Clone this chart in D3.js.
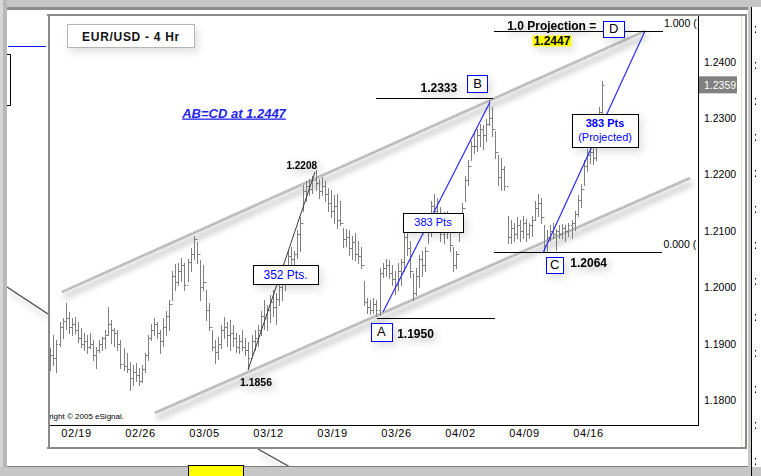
<!DOCTYPE html>
<html><head><meta charset="utf-8">
<script src="https://cdn.jsdelivr.net/npm/d3@7"></script>
<style>body{margin:0;background:#fff;overflow:hidden} text{font-family:"Liberation Sans",Arial,sans-serif}</style>
</head><body><svg id="c" width="761" height="476"></svg>
<script>
// ---------- data ----------
const weekLabels = ["02/19","02/26","03/05","03/12","03/19","03/26","04/02","04/09","04/16"];
const weekTicks = [0,1,2,3,4,5,6,7,8];
const priceTicks = [1.18,1.19,1.20,1.21,1.22,1.23,1.24];
const FIRST_BAR_WEEK = -0.4, BARS_PER_WEEK = 21;
const firstOpen = 1.1860;
const lastPrice = 1.2359;
const highs = [1.1892,1.1915,1.1906,1.1938,1.1945,1.1972,1.1956,1.1945,1.1947,1.1938,
1.1929,1.1919,1.1915,1.1919,1.1906,1.1894,1.1906,1.1912,1.1924,1.1965,
1.1942,1.1929,1.1924,1.1906,1.1892,1.1883,1.1867,1.1862,1.1866,1.1857,
1.1862,1.1883,1.1915,1.1936,1.1945,1.1938,1.1924,1.1945,1.1959,1.1977,
1.2030,1.2042,1.2044,1.2053,1.2044,1.2051,1.2069,1.2092,1.2080,1.2048,
1.2039,1.1995,1.1972,1.1924,1.1906,1.1912,1.1933,1.1947,1.1938,1.1942,
1.1933,1.1920,1.1915,1.1924,1.1910,1.1903,1.1915,1.1924,1.1933,1.1959,
1.1977,1.1968,1.1986,1.1995,1.1991,1.2012,1.2030,1.2039,1.2065,1.2071,
1.2065,1.2101,1.2124,1.2181,1.2189,1.2193,1.2198,1.2208,1.2193,1.2195,
1.2189,1.2177,1.2172,1.2163,1.2166,1.2154,1.2106,1.2104,1.2101,1.2092,
1.2097,1.2083,1.2071,1.2012,1.1982,1.1977,1.1981,1.1977,1.2035,1.2044,
1.2051,1.2048,1.2039,1.2030,1.2044,1.2051,1.2101,1.2113,1.2083,1.2025,
1.2034,1.2057,1.2065,1.2071,1.2127,1.2154,1.2166,1.2159,1.2142,1.2133,
1.2136,1.2119,1.2071,1.2065,1.2127,1.2149,1.2198,1.2225,1.2260,1.2278,
1.2281,1.2290,1.2287,1.2299,1.2333,1.2319,1.2278,1.2234,1.2230,1.2216,
1.2127,1.2119,1.2115,1.2124,1.2119,1.2127,1.2122,1.2115,1.2127,1.2154,
1.2166,1.2158,1.2110,1.2101,1.2110,1.2115,1.2104,1.2110,1.2113,1.2110,
1.2115,1.2119,1.2136,1.2163,1.2184,1.2225,1.2246,1.2260,1.2255,1.2269,
1.2319,1.2366];
const lows = [1.1853,1.1862,1.1850,1.1897,1.1910,1.1927,1.1920,1.1915,1.1919,1.1903,
1.1894,1.1889,1.1883,1.1892,1.1871,1.1857,1.1885,1.1889,1.1892,1.1915,
1.1901,1.1897,1.1889,1.1858,1.1853,1.1850,1.1818,1.1827,1.1835,1.1827,
1.1832,1.1850,1.1871,1.1906,1.1915,1.1910,1.1883,1.1897,1.1915,1.1924,
1.1977,1.1995,1.2004,1.2012,1.1995,1.2012,1.2030,1.2051,1.2044,1.1977,
1.1995,1.1942,1.1924,1.1889,1.1866,1.1874,1.1892,1.1910,1.1897,1.1889,
1.1897,1.1885,1.1883,1.1889,1.1880,1.1856,1.1880,1.1889,1.1897,1.1915,
1.1927,1.1924,1.1938,1.1950,1.1936,1.1968,1.1977,1.1995,1.2034,1.2039,
1.2042,1.2053,1.2065,1.2136,1.2154,1.2163,1.2168,1.2172,1.2159,1.2163,
1.2154,1.2136,1.2124,1.2115,1.2106,1.2110,1.2071,1.2074,1.2057,1.2051,
1.2048,1.2044,1.2035,1.1968,1.1954,1.1953,1.1955,1.1950,1.1952,1.2018,
1.2021,1.2016,1.2004,1.1989,1.1995,1.2004,1.2030,1.2057,1.2018,1.1977,
1.1986,1.2000,1.2021,1.2030,1.2078,1.2092,1.2119,1.2110,1.2083,1.2078,
1.2087,1.2065,1.2030,1.2034,1.2083,1.2106,1.2154,1.2181,1.2225,1.2239,
1.2242,1.2251,1.2246,1.2260,1.2287,1.2269,1.2230,1.2181,1.2172,1.2172,
1.2078,1.2078,1.2083,1.2087,1.2083,1.2088,1.2083,1.2087,1.2092,1.2119,
1.2127,1.2115,1.2064,1.2065,1.2083,1.2088,1.2067,1.2087,1.2088,1.2083,
1.2092,1.2088,1.2101,1.2127,1.2142,1.2181,1.2207,1.2221,1.2219,1.2225,
1.2278,1.2308];
const closes = [1.1880,1.1875,1.1900,1.1930,1.1940,1.1945,1.1930,1.1935,1.1925,1.1910,
1.1900,1.1905,1.1895,1.1900,1.1880,1.1890,1.1900,1.1910,1.1915,1.1935,
1.1925,1.1920,1.1900,1.1865,1.1860,1.1855,1.1840,1.1850,1.1845,1.1835,
1.1855,1.1880,1.1910,1.1925,1.1935,1.1920,1.1905,1.1930,1.1950,1.1970,
1.2020,1.2010,1.2030,1.2040,1.2005,1.2045,1.2060,1.2085,1.2060,1.2000,
1.2010,1.1960,1.1930,1.1895,1.1885,1.1900,1.1925,1.1930,1.1915,1.1920,
1.1910,1.1895,1.1905,1.1895,1.1890,1.1875,1.1905,1.1910,1.1925,1.1950,
1.1945,1.1960,1.1975,1.1965,1.1980,1.2000,1.2025,1.2030,1.2055,1.2050,
1.2060,1.2095,1.2115,1.2170,1.2180,1.2175,1.2190,1.2185,1.2170,1.2180,
1.2165,1.2150,1.2135,1.2145,1.2120,1.2115,1.2085,1.2090,1.2070,1.2080,
1.2060,1.2055,1.2040,1.1975,1.1965,1.1960,1.1970,1.1960,1.2025,1.2035,
1.2040,1.2025,1.2015,1.2005,1.2030,1.2045,1.2090,1.2070,1.2030,1.1990,
1.2020,1.2050,1.2040,1.2065,1.2110,1.2145,1.2135,1.2125,1.2095,1.2120,
1.2100,1.2075,1.2040,1.2060,1.2115,1.2140,1.2190,1.2215,1.2250,1.2250,
1.2270,1.2280,1.2270,1.2290,1.2300,1.2280,1.2240,1.2195,1.2210,1.2180,
1.2090,1.2105,1.2095,1.2110,1.2100,1.2115,1.2095,1.2110,1.2120,1.2140,
1.2150,1.2125,1.2075,1.2090,1.2100,1.2095,1.2100,1.2095,1.2105,1.2100,
1.2110,1.2115,1.2130,1.2155,1.2175,1.2215,1.2235,1.2240,1.2230,1.2260,
1.2310,1.2359];

// drawn studies, as [week, price]
const upperChannel = [[-0.219,1.19919],[8.891,1.24544]];
const lowerChannel = [[1.234,1.17775],[9.594,1.21939]];
const legAB = [[4.797,1.19564],[6.469,1.23286]];
const legCD = [[7.297,1.2061],[8.891,1.24545]];
const legXY = [[2.6875,1.18537],[3.734,1.22045]];
const levels = [[6.531,9.172,1.2454],[4.688,6.516,1.2336],[4.703,6.547,1.1946],[6.531,9.156,1.2062]];

// labels: text, week, price (baseline), anchor, size, weight, colour
const labels = [
  ["1.2208",3.766,1.22098,"end",10,"bold","#000"],
  ["1.1856",2.8125,1.18258,"middle",10.5,"bold","#000"],
  ["1.2333",5.669,1.23458,"middle",12,"bold","#000"],
  ["1.1950",5.305,1.19104,"middle",12,"bold","#000"],
  ["1.2064",8.011,1.20357,"middle",12,"bold","#000"],
  ["1.0 Projection =",7.433,1.24562,"middle",12,"bold","#000"]
];
const fibLabels = [["1.000 (",9.1875,1.2461],["0.000 (",9.18,1.20693]];
// boxes: lines of text, centre week, centre price, width, height, border colour, font
const boxes = [
  [["352 Pts."],3.273,1.20229,65,19,"#000","normal",12],
  [["383 Pts"],5.578,1.21150,60,19,"#000","normal",11],
  [["383 Pts","(Projected)"],8.266,1.22781,66,33,"#000","mixed",11],
  [["A"],4.769,1.19214,21,18,"#0000ff","normal",13],
  [["B"],6.273,1.2361,20,17,"#0000ff","normal",13],
  [["C"],7.48,1.20403,17,16,"#0000ff","normal",13],
  [["D"],8.402,1.24585,21,16,"#0000ff","normal",13]
];
const projValue = {text:"1.2447", w:7.4375, p:1.24296};
const abcdText = {text:"AB=CD at 1.2447", w:2.469, p:1.23011};

// ---------- scales ----------
const x = d3.scaleLinear().domain([0,8]).range([76,588]);
const y = d3.scaleLinear().domain([1.18,1.24]).range([400.3,61.7]);
const barWeek = i => FIRST_BAR_WEEK + i / BARS_PER_WEEK;

const svg = d3.select("#c");
const defs = svg.append("defs");
function shadowFilter(id, std, dx, dy, op){
  const f = defs.append("filter").attr("id",id).attr("x","-50%").attr("y","-80%").attr("width","200%").attr("height","260%");
  f.append("feGaussianBlur").attr("in","SourceAlpha").attr("stdDeviation",std).attr("result","b");
  f.append("feOffset").attr("in","b").attr("dx",dx).attr("dy",dy).attr("result","o");
  f.append("feFlood").attr("flood-color","#000").attr("flood-opacity",op);
  f.append("feComposite").attr("in2","o").attr("operator","in").attr("result","s");
  const m = f.append("feMerge"); m.append("feMergeNode").attr("in","s"); m.append("feMergeNode").attr("in","SourceGraphic");
}
shadowFilter("boxsh",4,3,4,0.13);
shadowFilter("txtsh",4,2,3,0.35);
shadowFilter("linesh",3,2,5,0.35);
defs.append("clipPath").attr("id","plotclip").append("rect").attr("x",50).attr("y",16).attr("width",648).attr("height",409);

// ---------- frame ----------
svg.append("rect").attr("width",761).attr("height",476).attr("fill","#fff");
// stray pieces of a background window
svg.append("line").attr("x1",8).attr("x2",46).attr("y1",46.5).attr("y2",46.5).attr("stroke","#1010ff");
svg.append("path").attr("d","M7,54.5H10.5V105.5H7").attr("fill","none").attr("stroke","#000").attr("filter","url(#boxsh)");
svg.append("line").attr("x1",7).attr("y1",287).attr("x2",48).attr("y2",314).attr("stroke","#444").attr("stroke-width",1.2).attr("filter","url(#linesh)");
svg.append("line").attr("x1",258).attr("y1",449).attr("x2",290).attr("y2",467).attr("stroke","#444").attr("stroke-width",1.2).attr("filter","url(#linesh)");
// outer bands
svg.append("rect").attr("x",0).attr("y",0).attr("width",761).attr("height",7).attr("fill","#c6c6c6");
svg.append("rect").attr("x",7).attr("y",7).attr("width",745).attr("height",3).attr("fill","#8c8c8c");
svg.append("rect").attr("x",0).attr("y",0).attr("width",3).attr("height",476).attr("fill","#d6d6d6");
svg.append("rect").attr("x",3).attr("y",0).attr("width",4).attr("height",476).attr("fill","#b8b8b8");
svg.append("rect").attr("x",0).attr("y",467).attr("width",761).attr("height",9).attr("fill","#c6c6c6");
svg.append("rect").attr("x",7).attr("y",466).attr("width",745).attr("height",1).attr("fill","#7c7c7c");
svg.append("rect").attr("x",748).attr("y",7).attr("width",3).attr("height",469).attr("fill","#c8c8c8");
svg.append("rect").attr("x",751).attr("y",7).attr("width",1).attr("height",469).attr("fill","#000");
svg.append("line").attr("x1",755.5).attr("x2",755.5).attr("y1",26).attr("y2",476).attr("stroke","#000")
  .attr("stroke-dasharray","1.5,4,1.5,29");
svg.append("rect").attr("x",188.5).attr("y",465.5).attr("width",55).attr("height",12).attr("fill","#ffff00").attr("stroke","#000");
// panel
svg.append("rect").attr("x",47).attr("y",14).attr("width",700).attr("height",2).attr("fill","#8a8a8a");
svg.append("rect").attr("x",47).attr("y",447).attr("width",700).attr("height",2).attr("fill","#8a8a8a");
svg.append("rect").attr("x",48).attr("y",14).attr("width",2).attr("height",435).attr("fill","#8a8a8a");
svg.append("rect").attr("x",745).attr("y",14).attr("width",2).attr("height",435).attr("fill","#8a8a8a");
svg.append("line").attr("x1",741.5).attr("x2",741.5).attr("y1",16).attr("y2",447).attr("stroke","#e2e2d4");
svg.append("line").attr("x1",698.5).attr("x2",698.5).attr("y1",16).attr("y2",425.5).attr("stroke","#000");
svg.append("line").attr("x1",50).attr("x2",699).attr("y1",425.5).attr("y2",425.5).attr("stroke","#000");

// ---------- plot ----------
const plot = svg.append("g").attr("clip-path","url(#plotclip)");
const lineGen = d3.line().x(d=>x(d[0])).y(d=>y(d[1]));
// channels
[upperChannel, lowerChannel].forEach(c=>{
  plot.append("path").attr("d",lineGen(c)).attr("stroke","#c6c6c6").attr("stroke-width",3).attr("fill","none").attr("filter","url(#linesh)");
  plot.append("path").attr("d",lineGen(c)).attr("stroke","#a9a9a9").attr("stroke-width",1).attr("stroke-dasharray","2,2").attr("fill","none");
});
// copyright
plot.append("text").attr("x",124).attr("y",419).attr("text-anchor","end").attr("font-size",8).attr("fill","#000")
  .text("Copyright \u00a9 2005 eSignal.");
// bars
const bars = highs.map((h,i)=>({h, l:lows[i], c:closes[i], o: i===0 ? firstOpen : closes[i-1], w: barWeek(i)}));
const px = v => Math.round(v)+0.5;
plot.append("g").selectAll("path").data(bars).join("path")
  .attr("d", d=>{ const xx = px(x(d.w)); return `M${xx},${Math.round(y(d.h))}V${Math.round(y(d.l))+1}M${xx-1.5},${px(y(d.o))}H${xx}M${xx},${px(y(d.c))}H${xx+1.5}`; })
  .attr("stroke","#7f7f7f").attr("stroke-width",1).attr("fill","none");
// legs
plot.append("path").attr("d",lineGen(legXY)).attr("stroke","#3a3a3a").attr("stroke-width",1).attr("fill","none");
[legAB, legCD].forEach(l=> plot.append("path").attr("d",lineGen(l)).attr("stroke","#2b2bff").attr("stroke-width",1.2).attr("fill","none"));
// horizontal levels
plot.append("g").selectAll("line").data(levels).join("line")
  .attr("x1",d=>x(d[0])).attr("x2",d=>x(d[1])).attr("y1",d=>px(y(d[2]))).attr("y2",d=>px(y(d[2])))
  .attr("stroke","#000").attr("stroke-width",1);
// fib texts
plot.append("g").selectAll("text").data(fibLabels).join("text")
  .attr("x",d=>x(d[1])).attr("y",d=>y(d[2])).attr("font-size",10.5).attr("fill","#000").text(d=>d[0]);

// ---------- axes ----------
const yAxis = svg.append("g").attr("transform","translate(698,0)")
  .call(d3.axisRight(y).tickValues(priceTicks).tickFormat(d3.format(".4f")).tickSize(0).tickPadding(6));
yAxis.select(".domain").remove();
yAxis.selectAll("text").attr("font-size",10.5).attr("fill","#000").attr("font-family","Liberation Sans, Arial, sans-serif");
const xAxis = svg.append("g").attr("transform","translate(0,425)")
  .call(d3.axisBottom(x).tickValues(weekTicks).tickFormat(i=>weekLabels[i]).tickSize(0).tickPadding(4));
xAxis.select(".domain").remove();
xAxis.selectAll("text").attr("font-size",11).attr("letter-spacing","0.6px").attr("fill","#000").attr("font-family","Liberation Sans, Arial, sans-serif");
// last price marker
svg.append("rect").attr("x",699).attr("y",y(lastPrice)-8.5).attr("width",38).attr("height",17).attr("fill","#808080");
svg.append("text").attr("x",704).attr("y",y(lastPrice)).attr("dy","0.35em").attr("font-size",10.5).attr("fill","#fff").text(d3.format(".4f")(lastPrice));

// ---------- annotations ----------
const ann = svg.append("g");
// title box
ann.append("rect").attr("x",67.5).attr("y",24.5).attr("width",127).attr("height",23).attr("fill","#fff").attr("stroke","#b4b4b4").attr("filter","url(#boxsh)");
ann.append("text").attr("x",131).attr("y",40.5).attr("text-anchor","middle").attr("font-size",12).attr("font-weight","bold")
  .attr("letter-spacing","0.7px").attr("fill","#111").text("EUR/USD - 4 Hr");
// AB=CD
ann.append("text").attr("x",x(abcdText.w)).attr("y",y(abcdText.p)).attr("text-anchor","middle").attr("font-size",13)
  .attr("font-weight","bold").attr("font-style","italic").attr("fill","#2424ee").style("text-decoration","underline").text(abcdText.text);
// plain labels
labels.forEach(l=>{
  ann.append("text").attr("x",x(l[1])).attr("y",y(l[2])).attr("text-anchor",l[3]).attr("font-size",l[4])
    .attr("font-weight",l[5]).attr("fill",l[6]).attr("filter","url(#txtsh)").text(l[0]);
});
// projected value with yellow background
ann.append("rect").attr("x",x(projValue.w)-19.5).attr("y",y(projValue.p)-9.5).attr("width",39).attr("height",11).attr("fill","#ffff00").attr("filter","url(#boxsh)");
ann.append("text").attr("x",x(projValue.w)).attr("y",y(projValue.p)).attr("text-anchor","middle").attr("font-size",12)
  .attr("font-weight","bold").attr("fill","#000").text(projValue.text);
// boxes
boxes.forEach(b=>{
  const cx = x(b[1]), cy = y(b[2]);
  const g = ann.append("g");
  g.append("rect").attr("x",Math.round(cx-b[3]/2)+0.5).attr("y",Math.round(cy-b[4]/2)+0.5).attr("width",b[3]).attr("height",b[4])
    .attr("fill","#fff").attr("stroke",b[5]).attr("stroke-width",1).attr("filter","url(#boxsh)");
  const blue = b[5] === "#000";
  b[0].forEach((t,k)=>{
    const n = b[0].length;
    g.append("text").attr("x",cx).attr("y",cy + (k-(n-1)/2)*14).attr("dy","0.36em").attr("text-anchor","middle")
      .attr("font-size",b[7]).attr("font-weight", b[6]==="mixed" && k===0 ? "bold" : "normal")
      .attr("fill", blue ? "#0000ff" : "#000").text(t);
  });
});
</script></body></html>
